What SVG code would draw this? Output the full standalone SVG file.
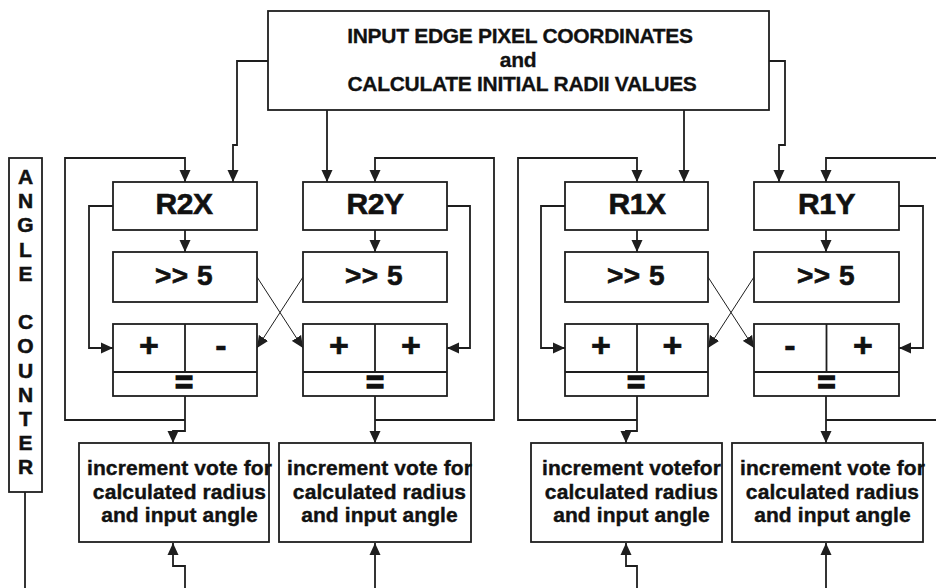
<svg xmlns="http://www.w3.org/2000/svg" width="936" height="588" viewBox="0 0 936 588">
<defs>
<marker id="ah" markerUnits="userSpaceOnUse" markerWidth="12" markerHeight="12" viewBox="0 0 12 12" refX="12" refY="6" orient="auto"><path d="M0,0.5 L12,6 L0,11.5 z" fill="#1e1e1e"/></marker>
</defs>
<style>
.box{fill:#fff;stroke:#1e1e1e;stroke-width:1.8}
.ln{fill:none;stroke:#1e1e1e;stroke-width:1.8}
.thin{fill:none;stroke:#1e1e1e;stroke-width:1}
.arr{marker-end:url(#ah)}
text{font-family:"Liberation Sans",Arial,sans-serif;font-weight:bold;fill:#111;stroke:#111;stroke-width:0.4}
.hdr{font-size:21px;letter-spacing:-0.3px;text-anchor:middle;stroke-width:0.3}
.reg{font-size:30px;letter-spacing:-0.5px;text-anchor:middle;stroke-width:0.6}
.sh{font-size:28px;letter-spacing:0.5px;text-anchor:middle;stroke-width:0.6}
.op{font-size:34px;text-anchor:middle;stroke-width:0.6}
.eq{font-size:31px;text-anchor:middle;stroke-width:1.5}
.vote{font-size:21px;letter-spacing:0.1px;text-anchor:middle}
.ac{font-size:21px;text-anchor:middle;stroke-width:0.5}
</style>
<rect width="936" height="588" fill="#fff"/>

<g id="connectors">
  <path class="ln arr" d="M268,61 H237 V145 H233 V182"/>
  <path class="ln arr" d="M327,110 V182"/>
  <path class="ln arr" d="M684,110 V182"/>
  <path class="ln arr" d="M769,61 H785 V145 H779 V182"/>
  <path class="ln arr" d="M185,420 H65 V158 H185 V182"/>
  <path class="ln arr" d="M375,420 H494 V158 H375 V182"/>
  <path class="ln arr" d="M637,420 H518 V158 H637 V182"/>
  <path class="ln arr" d="M936,158 H826 V182"/>
  <path class="ln" d="M826,420 H936"/>
  <path class="ln arr" d="M185,230 V252"/>
  <path class="ln arr" d="M375,230 V252"/>
  <path class="ln arr" d="M637,230 V252"/>
  <path class="ln arr" d="M826,230 V252"/>
  <path class="ln arr" d="M113,206 H89 V348 H113"/>
  <path class="ln arr" d="M447,206 H470 V348 H447"/>
  <path class="ln arr" d="M565,206 H541 V348 H565"/>
  <path class="ln arr" d="M899,206 H923 V348 H899"/>
  <path class="thin arr" d="M257,277 L303,348"/>
  <path class="thin arr" d="M303,277 L257,348"/>
  <path class="thin arr" d="M708,277 L754,348"/>
  <path class="thin arr" d="M754,277 L708,348"/>
  <path class="ln arr" d="M185,396 V431 H173 V443"/>
  <path class="ln arr" d="M375,396 V443"/>
  <path class="ln arr" d="M637,396 V431 H626 V443"/>
  <path class="ln arr" d="M826,396 V443"/>
  <path class="ln" d="M25,492 V588"/>
  <path class="ln arr" d="M185,588 V566 H173 V543"/>
  <path class="ln arr" d="M375,588 V543"/>
  <path class="ln arr" d="M637,588 V566 H626 V543"/>
  <path class="ln arr" d="M826,588 V543"/>
</g>

<g id="input">
  <rect class="box" x="268" y="11" width="501" height="99"/>
  <text class="hdr" x="520" y="43">INPUT EDGE PIXEL COORDINATES</text>
  <text class="hdr" x="518" y="66.5">and</text>
  <text class="hdr" x="522" y="91">CALCULATE INITIAL RADII VALUES</text>
</g>

<g id="angle-counter">
  <rect class="box" x="9" y="158" width="33" height="334"/>
  <text class="ac"><tspan x="25.5" y="184">A</tspan><tspan x="25.5" y="208.2">N</tspan><tspan x="25.5" y="232.4">G</tspan><tspan x="25.5" y="256.6">L</tspan><tspan x="25.5" y="280.8">E</tspan><tspan x="25.5" y="329.2">C</tspan><tspan x="25.5" y="353.4">O</tspan><tspan x="25.5" y="377.6">U</tspan><tspan x="25.5" y="401.8">N</tspan><tspan x="25.5" y="426">T</tspan><tspan x="25.5" y="450.2">E</tspan><tspan x="25.5" y="474.4">R</tspan></text>
</g>

<g id="r2x">
  <rect class="box" x="113" y="182" width="144" height="48"/>
  <text class="reg" x="184" y="214">R2X</text>
</g>
<g id="r2y">
  <rect class="box" x="303" y="182" width="144" height="48"/>
  <text class="reg" x="375" y="214">R2Y</text>
</g>
<g id="r1x">
  <rect class="box" x="565" y="182" width="143" height="48"/>
  <text class="reg" x="637" y="214">R1X</text>
</g>
<g id="r1y">
  <rect class="box" x="754" y="182" width="145" height="48"/>
  <text class="reg" x="826.5" y="214">R1Y</text>
</g>

<g id="shift-r2x">
  <rect class="box" x="113" y="252" width="144" height="50"/>
  <text class="sh" x="184" y="285">&gt;&gt; 5</text>
</g>
<g id="shift-r2y">
  <rect class="box" x="303" y="252" width="144" height="50"/>
  <text class="sh" x="374" y="285">&gt;&gt; 5</text>
</g>
<g id="shift-r1x">
  <rect class="box" x="565" y="252" width="143" height="50"/>
  <text class="sh" x="636" y="285">&gt;&gt; 5</text>
</g>
<g id="shift-r1y">
  <rect class="box" x="754" y="252" width="145" height="50"/>
  <text class="sh" x="826" y="285">&gt;&gt; 5</text>
</g>

<g id="adder-r2x">
  <rect class="box" x="113" y="324" width="144" height="72"/>
  <path class="ln" d="M113,372 H257 M185,324 V372"/>
  <text class="op" x="149" y="357">+</text>
  <text class="op" x="221" y="356.5">-</text>
  <text class="eq" x="184" y="392.5">=</text>
</g>
<g id="adder-r2y">
  <rect class="box" x="303" y="324" width="144" height="72"/>
  <path class="ln" d="M303,372 H447 M375,324 V372"/>
  <text class="op" x="339" y="357">+</text>
  <text class="op" x="411" y="357">+</text>
  <text class="eq" x="375" y="392.5">=</text>
</g>
<g id="adder-r1x">
  <rect class="box" x="565" y="324" width="143" height="72"/>
  <path class="ln" d="M565,372 H708 M637,324 V372"/>
  <text class="op" x="601" y="357">+</text>
  <text class="op" x="672.5" y="357">+</text>
  <text class="eq" x="636" y="392.5">=</text>
</g>
<g id="adder-r1y">
  <rect class="box" x="754" y="324" width="145" height="72"/>
  <path class="ln" d="M754,372 H899 M826.5,324 V372"/>
  <text class="op" x="790" y="356.5">-</text>
  <text class="op" x="863" y="357">+</text>
  <text class="eq" x="826.5" y="392.5">=</text>
</g>

<g id="vote-r2x">
  <rect class="box" x="79" y="443" width="190" height="99"/>
  <text class="vote" x="179.5" y="475">increment vote for</text>
  <text class="vote" x="179.5" y="498.5">calculated radius</text>
  <text class="vote" x="179.5" y="522">and input angle</text>
</g>
<g id="vote-r2y">
  <rect class="box" x="279" y="443" width="192" height="99"/>
  <text class="vote" x="379.5" y="475">increment vote for</text>
  <text class="vote" x="379.5" y="498.5">calculated radius</text>
  <text class="vote" x="379.5" y="522">and input angle</text>
</g>
<g id="vote-r1x">
  <rect class="box" x="531" y="443" width="191" height="99"/>
  <text class="vote" x="631.5" y="475">increment votefor</text>
  <text class="vote" x="631.5" y="498.5">calculated radius</text>
  <text class="vote" x="631.5" y="522">and input angle</text>
</g>
<g id="vote-r1y">
  <rect class="box" x="732" y="443" width="191" height="99"/>
  <text class="vote" x="832.5" y="475">increment vote for</text>
  <text class="vote" x="832.5" y="498.5">calculated radius</text>
  <text class="vote" x="832.5" y="522">and input angle</text>
</g>
</svg>
